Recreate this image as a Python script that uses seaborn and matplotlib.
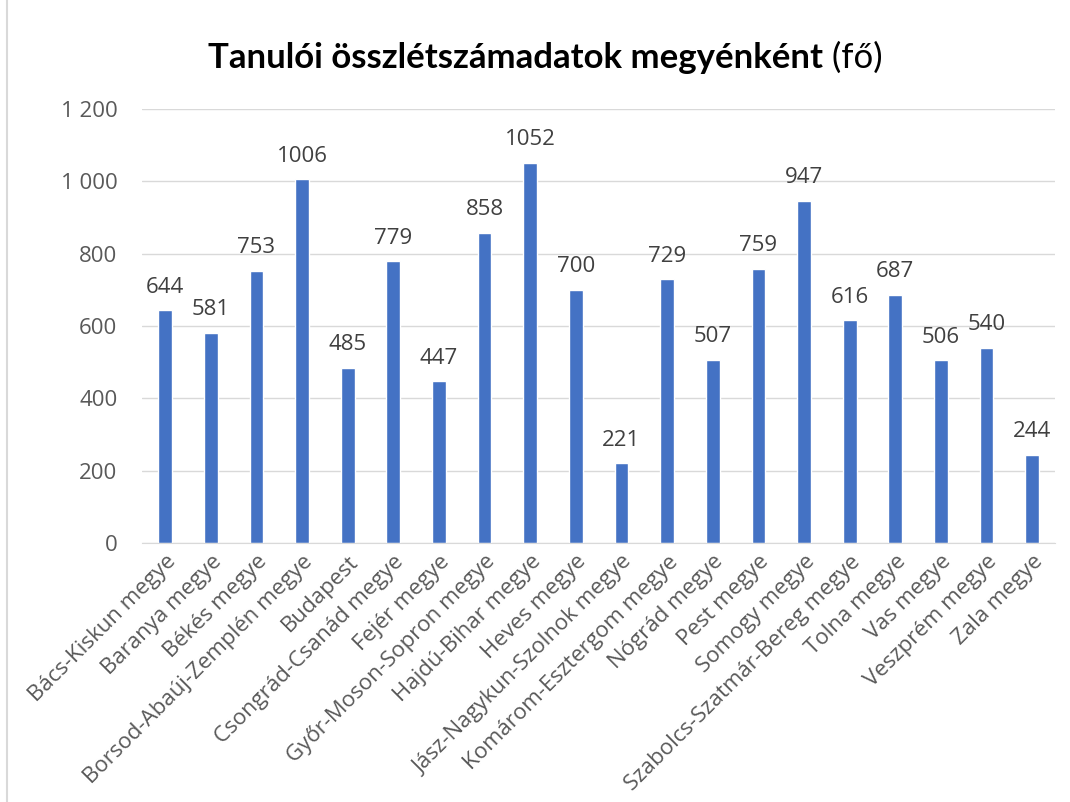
import matplotlib
matplotlib.use("Agg")
import matplotlib.pyplot as plt
import seaborn as sns
import pandas as pd

# Data
megyek = [
    "Bács-Kiskun megye", "Baranya megye", "Békés megye",
    "Borsod-Abaúj-Zemplén megye", "Budapest", "Csongrád-Csanád megye",
    "Fejér megye", "Győr-Moson-Sopron megye", "Hajdú-Bihar megye",
    "Heves megye", "Jász-Nagykun-Szolnok megye", "Komárom-Esztergom megye",
    "Nógrád megye", "Pest megye", "Somogy megye",
    "Szabolcs-Szatmár-Bereg megye", "Tolna megye", "Vas megye",
    "Veszprém megye", "Zala megye",
]
letszam = [644, 581, 753, 1006, 485, 779, 447, 858, 1052, 700,
           221, 729, 507, 759, 947, 616, 687, 506, 540, 244]
y_ticks = [0, 200, 400, 600, 800, 1000, 1200]
y_labels = ["0", "200", "400", "600", "800", "1 000", "1 200"]

df = pd.DataFrame({"megye": megyek, "fo": letszam})

sns.set_style("white")
plt.rcParams["font.family"] = ["Open Sans", "DejaVu Sans"]

fig = plt.figure(figsize=(10.7, 8.02), dpi=100)
ax = fig.add_axes([0.133, 0.323, 0.853, 0.541])

sns.barplot(data=df, x="megye", y="fo", color="#4472C4", width=0.3,
            saturation=1, ax=ax)

ax.set_ylim(0, 1200)
ax.set_yticks(y_ticks)
ax.set_yticklabels(y_labels)
ax.grid(axis="y", color="#D9D9D9", linewidth=1)
ax.set_axisbelow(True)
for s in ["top", "right", "left"]:
    ax.spines[s].set_visible(False)
ax.spines["bottom"].set_color("#D9D9D9")
ax.set_xlabel("")
ax.set_ylabel("")
ax.tick_params(axis="both", length=0, colors="#595959", labelsize=16)
ax.tick_params(axis="y", pad=18)
ax.tick_params(axis="x", pad=6)
plt.setp(ax.get_xticklabels(), rotation=45, ha="right",
         rotation_mode="anchor", family=["Open Sans", "DejaVu Sans"])
plt.setp(ax.get_yticklabels(), family=["Open Sans", "DejaVu Sans"])
ax.set_xlim(-0.5, len(megyek) - 0.5)

# data labels
ax.bar_label(ax.containers[0], labels=[str(v) for v in letszam],
             padding=9, fontsize=16, color="#404040",
             family=["Open Sans", "DejaVu Sans"])

# title: bold part + normal part
t1 = fig.text(0.5, 0.928, "Tanulói összlétszámadatok megyénként",
              fontsize=25, fontweight="bold", family=["Lato", "DejaVu Sans"],
              ha="center", va="center", color="black")
t2 = fig.text(0.5, 0.928, " (fő)", fontsize=25,
              family=["Lato", "DejaVu Sans"], ha="left", va="center",
              color="black")
fig.canvas.draw()
r = fig.canvas.get_renderer()
w1 = t1.get_window_extent(r).width / fig.bbox.width
w2 = t2.get_window_extent(r).width / fig.bbox.width
left = 0.51 - (w1 + w2) / 2
t1.set_ha("left")
t1.set_x(left)
t2.set_x(left + w1)

# chart frame
fig.add_artist(plt.Line2D([0.007, 0.007], [0, 1], color="#D9D9D9",
                          linewidth=1.5, transform=fig.transFigure))

fig.savefig("out.png", dpi=100, facecolor="white")
